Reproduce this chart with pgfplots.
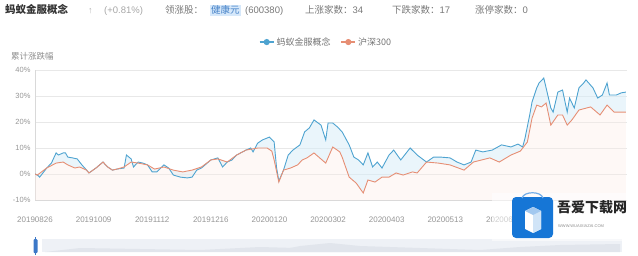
\documentclass[border=0pt]{standalone}
\usepackage{pgfplots}
\pgfplotsset{compat=1.18}
\usepackage{pgfplotstable}
\usepgfplotslibrary{fillbetween}
\usepackage{fontspec}
\setmainfont{Liberation Sans}
\newfontfamily\cjk{Noto Sans CJK SC}
\definecolor{antc}{RGB}{78,163,208}
\definecolor{hsc}{RGB}{230,142,116}
\definecolor{antf}{RGB}{214,236,248}
\definecolor{hsf}{RGB}{252,236,230}
\definecolor{gridc}{RGB}{232,232,232}
\definecolor{tickc}{RGB}{150,150,150}
\definecolor{headc}{RGB}{120,120,120}
\definecolor{wmblue}{RGB}{22,118,214}
\definecolor{hlblue}{RGB}{70,130,200}
\definecolor{hlbg}{RGB}{214,232,250}
\definecolor{slbg}{RGB}{238,241,246}
\definecolor{slsh}{RGB}{225,229,236}
\definecolor{slh}{RGB}{60,120,200}

\pgfplotstableread{
idx val
0 0
1 -0.4
2 -1.2
5 2.3
7 4.2
9 8.1
10 7.3
12 8.1
13 8.1
14 6.5
16 6.2
18 5.8
20 3.5
22 1.5
23 0.4
26 2.3
29 4.6
31 2.7
33 1.5
35 1.9
38 2.3
39 7.3
41 5.8
42 2.7
44 4.6
46 4.2
48 3.5
50 0.8
52 0.8
55 3.5
57 2.3
59 -0.4
62 -1.2
65 -1.5
67 -1.2
69 1.5
71 2.3
75 5.4
78 6.2
80 2.7
82 4.6
84 5.4
86 7.3
90 9.2
92 10.0
93 8.5
95 11.9
97 13.1
100 14.2
102 12.3
103 2.7
104 -2.7
106 1.5
108 7.3
110 9.2
113 11.2
115 16.2
117 17.7
119 20.8
122 18.8
124 13.1
125 19.6
127 19.6
129 18.1
131 16.2
134 11.2
136 6.5
138 5.4
140 3.5
142 8.1
144 2.7
146 4.6
148 2.3
151 7.3
153 9.2
156 5.4
160 10.0
163 7.3
167 4.6
170 6.5
173 6.5
177 6.2
180 4.6
183 3.5
186 4.6
188 9.2
191 8.5
195 9.2
199 11.2
203 10.4
206 11.5
208 10.4
209 13.8
211 22.7
212 27.7
214 33.1
215 35.0
217 36.9
218 33.1
220 25.4
221 23.8
223 31.5
225 32.3
227 23.8
228 29.2
230 25.4
232 33.1
234 35.0
235 36.2
238 33.1
240 29.2
242 30.4
244 35.0
245 30.4
248 30.4
250 31.2
252 31.5
}\anttable

\pgfplotstableread{
idx val
0 0
1 -0.4
5 2.3
9 4.2
12 4.6
14 3.5
17 2.3
19 2.7
22 1.5
23 0.4
26 2.3
29 4.6
31 2.7
33 1.5
35 1.9
38 2.7
41 4.6
44 4.2
48 3.5
51 1.9
55 2.7
59 1.5
63 0.8
67 1.5
71 2.7
75 5.4
78 5.8
82 4.6
86 7.3
90 9.2
95 10.0
99 10.0
101 8.8
102 5.4
104 -3.1
106 1.5
109 2.3
112 3.5
114 5.4
116 6.2
119 8.1
120 7.3
124 4.2
127 10.4
130 8.5
131 6.5
134 -1.2
137 -3.5
140 -7.3
142 -2.3
145 -3.1
148 -1.2
151 -1.2
154 0.4
157 -0.4
161 0.8
163 0.4
167 4.6
172 4.2
177 3.5
183 1.5
187 4.6
194 6.2
198 4.6
203 7.3
207 8.8
210 12.3
212 21.5
214 26.5
216 25.8
218 27.3
220 18.8
223 22.7
225 22.7
227 18.8
229 20.8
232 24.6
237 25.8
241 22.7
244 26.5
247 23.8
252 23.8
}\hstable

\begin{document}
\begin{tikzpicture}

\begin{axis}[
  at={(35pt,55pt)}, anchor=south west,
  scale only axis, width=592pt, height=130pt,
  xmin=0, xmax=252.5, ymin=-10, ymax=40,
  ytick={-10,0,10,20,30,40},
  yticklabel={\pgfmathprintnumber{\tick}\%},
  xtick={0,25,50,75,100,125,150,175,200},
  xticklabels={20190826,20191009,20191112,20191216,20200120,20200302,20200403,20200513,20200616},
  /pgf/number format/assume math mode=true,
  ymajorgrids, grid style={gridc, line width=0.7pt},
  axis x line*=bottom, axis y line*=left,
  axis line style={draw=black!15, line width=0.7pt},
  major tick length=0pt,
  tick label style={text=tickc},
  yticklabel style={font=\fontsize{7.5}{9}\selectfont, xshift=-1pt},
  xticklabel style={font=\fontsize{8}{9}\selectfont, yshift=-13pt},
  legend style={draw=none, fill=none, font=\cjk\fontsize{9}{10}\selectfont, text=black!55,
    at={(0.4916,1.215)}, anchor=center, legend columns=2,
    /tikz/every even column/.append style={column sep=8pt}},
  legend image code/.code={\draw[#1,line width=1.6pt] (0pt,0pt)--(14pt,0pt); \fill[#1] (7pt,0pt) circle (2.6pt);},
]
\addplot[antc, line width=0.9pt, name path=ant] table[x=idx,y=val] {\anttable};
\addlegendentry{蚂蚁金服概念}
\addplot[hsc, line width=0.9pt, name path=hs] table[x=idx,y=val] {\hstable};
\addlegendentry{沪深300}
\addplot[draw=none, name path=base, forget plot] coordinates {(0,-10) (252,-10)};
\addplot[antf, fill opacity=0.5, forget plot] fill between[of=ant and hs];
\addplot[hsf, fill opacity=0.35, forget plot] fill between[of=hs and base];
\end{axis}

\begin{scope}[x=1pt,y=1pt]
% header
\node[anchor=base west,inner sep=0pt,text=black!80] at (5,241) {\cjk\bfseries\fontsize{10.5}{12}\selectfont 蚂蚁金服概念};
\node[anchor=base west,inner sep=0pt,text=black!30] at (88,241) {\fontsize{9}{10}\selectfont ↑};
\node[anchor=base west,inner sep=0pt,text=black!35] at (104,241) {\fontsize{9.5}{11}\selectfont (+0.81\%)};
\node[anchor=base west,inner sep=0pt,text=headc] at (165,241) {\cjk\fontsize{9.5}{11}\selectfont 领涨股：};
\node[anchor=base west,inner sep=1pt,text=hlblue,fill=hlbg] at (210,241) {\cjk\fontsize{9.5}{11}\selectfont 健康元};
\node[anchor=base west,inner sep=0pt,text=headc] at (245,241) {\fontsize{9.5}{11}\selectfont (600380)};
\node[anchor=base west,inner sep=0pt,text=headc] at (305,241) {{\cjk\fontsize{9.5}{11}\selectfont 上涨家数：}\fontsize{9.5}{11}\selectfont 34};
\node[anchor=base west,inner sep=0pt,text=headc] at (392,241) {{\cjk\fontsize{9.5}{11}\selectfont 下跌家数：}\fontsize{9.5}{11}\selectfont 17};
\node[anchor=base west,inner sep=0pt,text=headc] at (475,241) {{\cjk\fontsize{9.5}{11}\selectfont 涨停家数：}\fontsize{9.5}{11}\selectfont 0};
% y title
\node[anchor=west,inner sep=0pt,text=black!45] at (11,199) {\cjk\fontsize{8.5}{10}\selectfont 累计涨跌幅};
% data zoom slider
\fill[slbg] (42,3) rectangle (622,16);
\fill[slsh] (45,3) -- (80,7) -- (140,6) -- (200,5) -- (260,8) -- (330,6) -- (360,3) -- cycle;
\fill[slsh] (270,3) -- (300,9) -- (330,12) -- (360,9) -- (420,7) -- (480,5) -- (520,8) -- (560,10) -- (620,11) -- (620,3) -- cycle;
\fill[slh,rounded corners=1pt] (33.5,2) rectangle (37.5,16);
\draw[slh,line width=0.8pt] (35.5,0) -- (35.5,18);
% watermark
\fill[white, opacity=0.55] (492,14) rectangle (638,62);
\fill[wmblue, rounded corners=4pt] (512,17) rectangle (553,58);
\draw[wmblue!60, line width=1.2pt] (522,57) .. controls (524,64) and (541,64) .. (543,57);
\fill[white] (525,26) -- (525,44) -- (533,48) -- (541,44) -- (541,26) -- (533,22) -- cycle;
\fill[white!80!wmblue] (533,22) -- (533,40) -- (541,44) -- (541,26) -- cycle;
\fill[white!60!wmblue] (525,44) -- (533,48) -- (541,44) -- (533,40) -- cycle;
\node[anchor=west,inner sep=0pt,text=black!85] at (557,48) {\cjk\bfseries\fontsize{14}{16}\selectfont 吾爱下载网};
\node[anchor=west,inner sep=0pt,text=black!45] at (558,29) {\fontsize{4}{5}\selectfont WWW.WUAIXIAZAI.COM};
\end{scope}
\pgfresetboundingbox
\path[use as bounding box] (0pt,0pt) rectangle (638pt,255pt);
\end{tikzpicture}
\end{document}
